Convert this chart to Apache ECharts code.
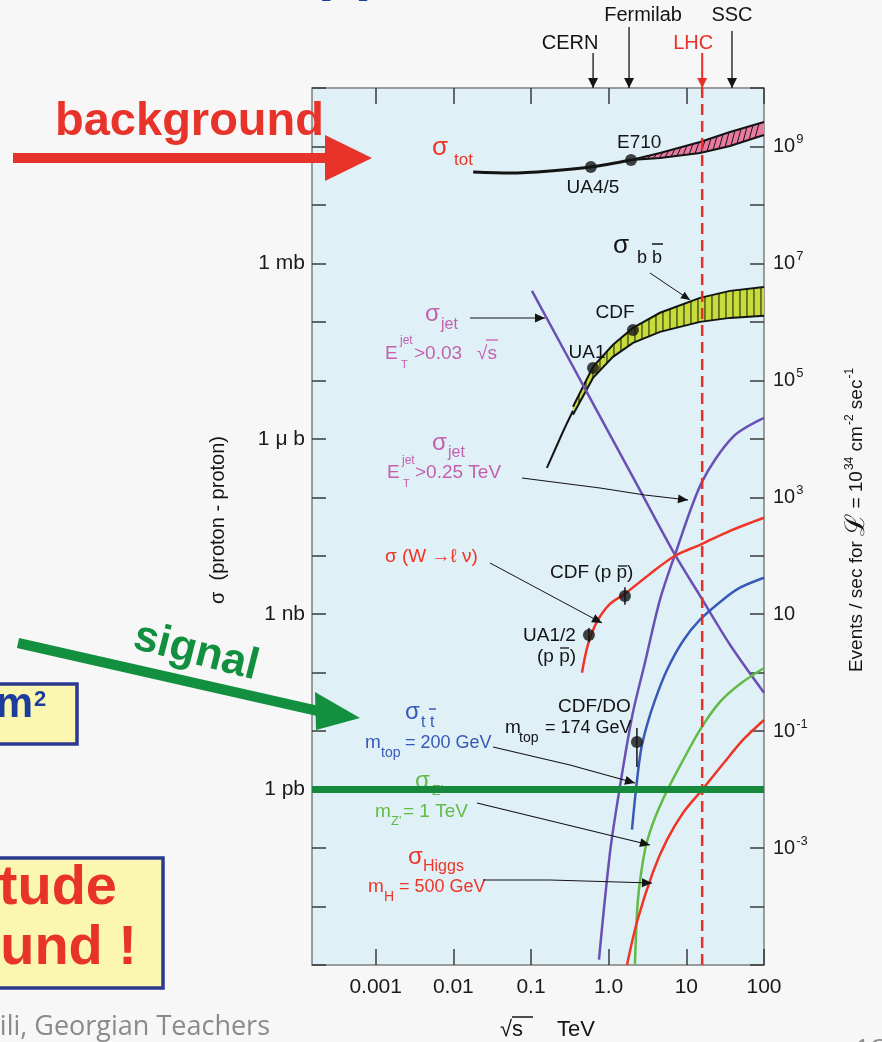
<!DOCTYPE html>
<html>
<head>
<meta charset="utf-8">
<script src="https://cdn.jsdelivr.net/npm/echarts@6/dist/echarts.min.js"></script>
<style>
  html, body { margin: 0; padding: 0; background: #f7f7f8; }
  #c { width: 882px; height: 1042px; }
</style>
</head>
<body>
<div id="c"></div>
<script>
// Cross sections vs. centre-of-mass energy. √s in TeV, σ in nb.
const totS        = [0.018, 0.054, 0.175, 0.59, 1.94];
const totSigma    = [3.66e7, 3.52e7, 3.81e7, 4.47e7, 5.88e7];
const totBandS    = [1.94, 4.58, 15, 36.5, 100];
const totBandHi   = [5.88e7, 7.74e7, 1.19e8, 1.77e8, 2.62e8];
const totBandLo   = [5.88e7, 6.36e7, 7.74e7, 1.02e8, 1.57e8];

const bbLeadS     = [0.16, 0.2035, 0.258, 0.347];
const bbLeadSigma = [319, 649, 1318, 3013];
const bbBandS     = [0.347, 0.628, 1.136, 2.055, 4.58, 15, 36.5, 100];
const bbBandHi    = [3524, 1.70e4, 4.05e4, 7.89e4, 1.43e5, 2.57e5, 3.39e5, 3.96e5];
const bbBandLo    = [2570, 1.10e4, 2.52e4, 4.38e4, 6.74e4, 1.0e5, 1.17e5, 1.27e5];

const jetLowS     = [0.1028, 0.574, 2.18, 7.14, 15, 36.5, 100];          // E_T > 0.03 √s
const jetLowSigma = [3.39e5, 5.02e3, 191, 10.4, 2.07, 0.301, 0.0455];
const jetHighS    = [0.75, 1.04, 1.357, 2.0, 2.93, 4.58, 7.14, 15.9, 39.9, 100]; // E_T > 0.25 TeV
const jetHighSigma= [1.24e-6, 8.4e-5, 8.9e-4, 0.0177, 0.148, 1.77, 10.4, 183, 1074, 2270];

const wS          = [0.453, 0.541, 0.707, 1.04, 1.62, 3.40, 7.14, 15, 36.5, 100];
const wSigma      = [0.1, 0.301, 0.745, 1.50, 2.24, 4.88, 10, 15.4, 26.7, 44.7];

const ttS         = [1.996, 2.246, 2.606, 3.114, 3.947, 5.63, 9.05, 15, 29.6, 49.1, 100];
const ttSigma     = [2.07e-4, 1e-3, 4.76e-3, 0.0127, 0.034, 0.111, 0.348, 0.805, 1.77, 2.84, 4.2];

const zpS         = [2.18, 2.384, 2.934, 3.61, 4.58, 5.63, 8.28, 15, 27.1, 49.1, 100];
const zpSigma     = [1.02e-6, 1.32e-5, 9.3e-5, 2.39e-4, 5.25e-4, 9.5e-4, 2.54e-3, 0.0105, 0.0316, 0.0641, 0.120];

const higgsS      = [1.72, 2.314, 3.72, 5.63, 9.05, 15.9, 29.6, 53.6, 100];
const higgsSigma  = [1.0e-6, 5.44e-6, 3.9e-5, 1.38e-4, 3.98e-4, 9.86e-4, 2.74e-3, 7.06e-3, 0.0155];

// measured points
const measS       = [0.59, 1.94, 0.628, 2.055, 0.557, 1.62, 2.31];
const measSigma   = [4.47e7, 5.88e7, 1.63e4, 7.26e4, 0.44, 2.05, 6.5e-3];
const errS        = [0.557, 1.62, 2.31];
const errLo       = [0.33, 1.45, 2.44e-3];
const errHi       = [0.58, 2.9, 0.0113];

// accelerators
const colliderNames = ['CERN', 'Fermilab', 'LHC', 'SSC'];
const colliderS     = [0.63, 1.83, 16, 38.7];
const lhcS          = 16;
const onePb         = 1e-3;                     // 1 pb in nb

// axes
const xTickValues   = [0.001, 0.01, 0.1, 1, 10, 100];
const xTickLabels   = ['0.001', '0.01', '0.1', '1.0', '10', '100'];
const leftTickSigma = [1e6, 1e3, 1, 1e-3];
const leftTickLabels= ['1 mb', '1 μ b', '1 nb', '1 pb'];
const rightTickExp  = [9, 7, 5, 3, 1, -1, -3];
const rateFactor    = 10;                       // events/s per nb at L = 1e34 cm^-2 s^-1

const lg = Math.log10;
const X_MIN = -3.82, X_MAX = 2;
const Y_MIN = -6, Y_MAX = 9;
const FF = '"Liberation Sans", Arial, Helvetica, sans-serif';
const RED = '#ee3526', MAG = '#c55fae', BLUE = '#3859b8', GREEN = '#62bb46', PURPLE = '#6a50b4', INK = '#141414';

const pairs = (xs, ys) => xs.map((s, i) => [lg(s), lg(ys[i])]);

function interpY(pts, x) {
  for (let i = 0; i < pts.length - 1; i++) {
    const a = pts[i], b = pts[i + 1];
    if (x >= a[0] && x <= b[0]) return a[1] + (b[1] - a[1]) * (x - a[0]) / (b[0] - a[0]);
  }
  return pts[pts.length - 1][1];
}

// hatched uncertainty band between two curves
function band(xs, hi, lo, fill, hatch) {
  return {
    type: 'custom', z: 3, silent: true,
    data: xs.map((s, i) => [lg(s), lg(hi[i]), lg(lo[i])]),
    encode: { x: 0, y: [1, 2] },
    renderItem(params, api) {
      if (params.dataIndex !== 0) return null;
      const up = xs.map((s, i) => api.coord([lg(s), lg(hi[i])]));
      const dn = xs.map((s, i) => api.coord([lg(s), lg(lo[i])]));
      const kids = [{
        type: 'polygon', shape: { points: up.concat(dn.slice().reverse()) },
        style: { fill: fill, stroke: null }
      }];
      const x0 = up[0][0], x1 = up[up.length - 1][0];
      if (hatch === 'vertical') {
        for (let x = x0 + 6; x < x1 - 1; x += 7) {
          kids.push({ type: 'line', shape: { x1: x, y1: interpY(up, x), x2: x, y2: interpY(dn, x) },
            style: { stroke: INK, lineWidth: 1 } });
        }
      } else {
        for (let x = x0 + 4; x < x1 - 5; x += 6) {
          kids.push({ type: 'line', shape: { x1: x, y1: interpY(dn, x), x2: x + 4, y2: interpY(up, x + 4) },
            style: { stroke: INK, lineWidth: 1 } });
        }
      }
      kids.push({ type: 'polyline', shape: { points: up }, style: { stroke: INK, lineWidth: 2, fill: null } });
      kids.push({ type: 'polyline', shape: { points: dn }, style: { stroke: INK, lineWidth: 2, fill: null } });
      return { type: 'group', children: kids };
    }
  };
}

function curve(xs, ys, color, width, z) {
  return {
    type: 'line', data: pairs(xs, ys), showSymbol: false, symbol: 'none', silent: true,
    smooth: 0.3, z: z || 4,
    lineStyle: { color: color, width: width }
  };
}

const tickStyle = { color: '#3a3a3a', width: 1.5 };
const xTicks = xTickValues.map(lg);
const option = {
  backgroundColor: '#f7f7f8',
  animation: false,
  grid: { left: 312, top: 88, width: 452, height: 877, show: true,
          backgroundColor: '#dff0f7', borderColor: '#7d7d7d', borderWidth: 1.5 },
  xAxis: [
    { type: 'value', min: X_MIN, max: X_MAX, position: 'bottom',
      axisLine: { show: false, onZero: false }, splitLine: { show: false },
      axisTick: { inside: true, length: 16, customValues: xTicks, lineStyle: tickStyle },
      axisLabel: { customValues: xTicks, margin: 12, fontSize: 21, color: '#1a1a1a', fontFamily: FF,
                   formatter: v => xTickLabels[xTicks.findIndex(t => Math.abs(t - v) < 1e-6)] } },
    { type: 'value', min: X_MIN, max: X_MAX, position: 'top',
      axisLine: { show: false, onZero: false }, splitLine: { show: false },
      axisTick: { inside: true, length: 16, customValues: xTicks, lineStyle: tickStyle },
      axisLabel: { show: false } }
  ],
  yAxis: [
    { type: 'value', min: Y_MIN, max: Y_MAX, interval: 1, position: 'left',
      axisLine: { show: false, onZero: false }, splitLine: { show: false },
      axisTick: { inside: true, length: 14, lineStyle: tickStyle },
      axisLabel: { margin: 7, fontSize: 21, color: '#1a1a1a', fontFamily: FF,
                   formatter: v => { const i = leftTickSigma.findIndex(s => Math.abs(lg(s) - v) < 1e-6); return i < 0 ? '' : leftTickLabels[i]; } } },
    { type: 'value', min: Y_MIN + lg(rateFactor), max: Y_MAX + lg(rateFactor), interval: 1, position: 'right',
      axisLine: { show: false, onZero: false }, splitLine: { show: false },
      axisTick: { inside: true, length: 14, lineStyle: tickStyle },
      axisLabel: { margin: 9, fontSize: 20, color: '#1a1a1a', fontFamily: FF,
                   formatter: v => {
                     const e = Math.round(v);
                     if (rightTickExp.indexOf(e) < 0) return '';
                     return e === 1 ? '10' : '10{sup|' + e + '}';
                   },
                   rich: { sup: { fontSize: 13, fontFamily: FF, color: '#1a1a1a', padding: [0, 0, 14, 1] } } } }
  ],
  series: [
    band(totBandS, totBandHi, totBandLo, '#e97aa0', 'diagonal'),
    band(bbBandS, bbBandHi, bbBandLo, '#c6dc3a', 'vertical'),
    curve(totS, totSigma, INK, 3),
    curve(bbLeadS, bbLeadSigma, INK, 2),
    curve(jetLowS, jetLowSigma, PURPLE, 2.5),
    curve(jetHighS, jetHighSigma, PURPLE, 2.5),
    curve(wS, wSigma, RED, 2.5),
    curve(ttS, ttSigma, BLUE, 2.5),
    curve(zpS, zpSigma, GREEN, 2.5),
    curve(higgsS, higgsSigma, RED, 2.5),
    { // LHC energy
      type: 'line', data: [[lg(lhcS), Y_MIN], [lg(lhcS), Y_MAX]], showSymbol: false, symbol: 'none', silent: true, z: 5,
      lineStyle: { color: '#e8302a', width: 2.5, type: [11, 6] } },
    { // 1 pb reference level
      type: 'line', data: [[X_MIN, lg(onePb)], [X_MAX, lg(onePb)]], showSymbol: false, symbol: 'none', silent: true, z: 8,
      lineStyle: { color: '#16893c', width: 7 } },
    { type: 'custom', z: 6, silent: true,
      data: errS.map((s, i) => [lg(s), lg(errLo[i]), lg(errHi[i])]),
      encode: { x: 0, y: [1, 2] },
      renderItem(params, api) {
        const a = api.coord([api.value(0), api.value(1)]);
        const b = api.coord([api.value(0), api.value(2)]);
        return { type: 'line', shape: { x1: a[0], y1: a[1], x2: b[0], y2: b[1] }, style: { stroke: INK, lineWidth: 1.5 } };
      } },
    { type: 'scatter', data: pairs(measS, measSigma), symbol: 'circle', symbolSize: 12, silent: true, z: 7,
      itemStyle: { color: INK } }
  ]
};

const chart = echarts.init(document.getElementById('c'));
chart.setOption(option);

// annotations
const G = [];
function txt(x, y, s, size, color, o) {
  o = o || {};
  G.push({ type: 'text', x: x, y: y, z: o.z == null ? 60 : o.z, rotation: o.rot || 0, silent: true,
    style: { text: s, fontSize: size, fontFamily: o.ff || FF, fontWeight: o.fw || 'normal', fill: color,
             align: o.al || 'left', verticalAlign: o.va || 'middle', rich: o.rich } });
}
function seg(x1, y1, x2, y2, color, w, z) {
  G.push({ type: 'line', z: z == null ? 60 : z, silent: true, shape: { x1: x1, y1: y1, x2: x2, y2: y2 },
           style: { stroke: color, lineWidth: w } });
}
function arrow(pts, color, w, len, half, z) {
  z = z == null ? 60 : z;
  G.push({ type: 'polyline', z: z, silent: true, shape: { points: pts }, style: { stroke: color, lineWidth: w, fill: null } });
  const p = pts[pts.length - 2], q = pts[pts.length - 1];
  const d = Math.hypot(q[0] - p[0], q[1] - p[1]), ux = (q[0] - p[0]) / d, uy = (q[1] - p[1]) / d;
  const bx = q[0] - ux * len, by = q[1] - uy * len;
  G.push({ type: 'polygon', z: z, silent: true,
           shape: { points: [[q[0], q[1]], [bx - uy * half, by + ux * half], [bx + uy * half, by - ux * half]] },
           style: { fill: color } });
}

// slide decorations around the figure
txt(318, -28, 'pp', 60, '#1c3d9c', { fw: 'bold' });
txt(55, 122, 'background', 47, '#e8332a', { fw: 'bold' });
G.push({ type: 'rect', z: 60, silent: true, shape: { x: 13, y: 153, width: 314, height: 10 }, style: { fill: '#e8332a' } });
G.push({ type: 'polygon', z: 60, silent: true, shape: { points: [[325, 135], [372, 158], [325, 181]] }, style: { fill: '#e8332a' } });
txt(196, 652, 'signal', 44, '#13903f', { fw: 'bold', al: 'center', rot: -0.25 });
seg(18, 643, 318, 711, '#13903f', 10);
G.push({ type: 'polygon', z: 60, silent: true, shape: { points: [[315, 692], [360, 718], [316, 730]] }, style: { fill: '#13903f' } });
G.push({ type: 'rect', z: 55, silent: true, shape: { x: -5, y: 684, width: 82, height: 60 }, style: { fill: '#fcf7b0', stroke: '#2b3a90', lineWidth: 3.5 } });
txt(33, 705, 'm', 42, '#1c3d9c', { fw: 'bold', al: 'right' });
txt(34, 700, '2', 22, '#1c3d9c', { fw: 'bold' });
G.push({ type: 'rect', z: 55, silent: true, shape: { x: -5, y: 858, width: 168, height: 130 }, style: { fill: '#fcf7b0', stroke: '#2b3a90', lineWidth: 3.5 } });
txt(117, 889, 'tude', 56, '#e8332a', { fw: 'bold', al: 'right' });
txt(137, 949, 'und !', 56, '#e8332a', { fw: 'bold', al: 'right' });
txt(270, 1027, 'ili, Georgian Teachers', 27, '#8a8a8a', { al: 'right', ff: '"Open Sans", Lato, sans-serif' });
txt(855, 1050, '16', 26, '#8a8a8a', { ff: '"Open Sans", Lato, sans-serif' });

// axis titles
txt(218, 520, 'σ  (proton - proton)', 20, INK, { al: 'center', rot: Math.PI / 2 });
txt(857, 520, 'Events / sec for {L|ℒ} = 10{sup|34} cm{sup|-2} sec{sup|-1}', 19, INK, {
  al: 'center', rot: Math.PI / 2,
  rich: { L: { fontSize: 27, fontFamily: '"DejaVu Serif", serif', fill: INK },
          sup: { fontSize: 12, fontFamily: FF, fill: INK, padding: [0, 0, 14, 1] } } });
txt(500, 1030, '√s', 22, INK);
seg(512, 1017, 533, 1017, INK, 1.5);
txt(557, 1030, 'TeV', 22, INK);

// σ_tot
txt(432, 148, 'σ', 26, RED);
txt(454, 160, 'tot', 17, RED);
txt(617, 143, 'E710', 19, INK);
txt(593, 188, 'UA4/5', 19, INK, { al: 'center' });
// σ_bb
txt(613, 246, 'σ', 26, INK);
txt(637, 258, 'b', 18, INK);
txt(652, 258, 'b', 18, INK);
seg(652, 244, 663, 244, INK, 1.5);
arrow([[650, 273], [690, 300]], INK, 1, 9, 4);
txt(615, 313, 'CDF', 19, INK, { al: 'center' });
txt(587, 353, 'UA1', 19, INK, { al: 'center' });
// jets
txt(425, 314, 'σ', 24, MAG);
txt(441, 325, 'jet', 16, MAG);
arrow([[470, 318], [545, 318]], INK, 1.2, 10, 4.5);
txt(385, 354, 'E', 19, MAG);
txt(400, 341, 'jet', 12, MAG);
txt(401, 365, 'T', 11, MAG);
txt(414, 354, '>0.03', 19, MAG);
txt(477, 354, '√s', 19, MAG);
seg(486, 340, 498, 340, MAG, 1.3);
txt(432, 443, 'σ', 24, MAG);
txt(448, 453, 'jet', 16, MAG);
txt(387, 473, 'E', 19, MAG);
txt(402, 461, 'jet', 12, MAG);
txt(403, 484, 'T', 11, MAG);
txt(415, 473, '>0.25 TeV', 19, MAG);
arrow([[522, 478], [600, 488], [645, 495], [688, 500]], INK, 1.2, 10, 4.5);
// W
txt(385, 557, 'σ (W →ℓ ν)', 19, RED);
arrow([[490, 563], [602, 623]], INK, 1, 10, 4.5);
txt(550, 573, 'CDF (p p)', 19, INK);
seg(618, 566, 627, 566, INK, 1.3);
txt(523, 636, 'UA1/2', 19, INK);
txt(537, 657, '(p p)', 19, INK);
seg(560, 648, 569, 648, INK, 1.3);
// top
txt(405, 712, 'σ', 24, BLUE);
txt(421, 723, 't t', 16, BLUE);
seg(429, 709, 436, 709, BLUE, 1.5);
txt(365, 743, 'm', 19, BLUE);
txt(381, 753, 'top', 14, BLUE);
txt(405, 743, '= 200 GeV', 18, BLUE);
arrow([[493, 747], [570, 765], [635, 783]], INK, 1.2, 10, 4.5);
txt(558, 707, 'CDF/DO', 19, INK);
txt(505, 728, 'm', 19, INK);
txt(519, 738, 'top', 14, INK);
txt(545, 728, '= 174 GeV', 18, INK);
// Z'
txt(415, 781, 'σ', 24, GREEN, { z: 1 });
txt(432, 791, "Z'", 14, GREEN, { z: 1 });
txt(375, 812, 'm', 19, GREEN);
txt(391, 821, "Z'", 13, GREEN);
txt(403, 812, '= 1 TeV', 19, GREEN);
arrow([[477, 803], [650, 845]], INK, 1.2, 10, 4.5);
// Higgs
txt(408, 857, 'σ', 24, RED);
txt(423, 867, 'Higgs', 16, RED);
txt(368, 887, 'm', 19, RED);
txt(384, 897, 'H', 14, RED);
txt(399, 887, '= 500 GeV', 18, RED);
arrow([[483, 880], [550, 880], [652, 883]], INK, 1.2, 10, 4.5);

// accelerator markers above the frame, placed with the x scale
const markerTop   = [53, 27, 53, 31];
const labelOffset = [[-23, 43], [14, 15], [-9, 43], [0, 15]];
colliderS.forEach((s, i) => {
  const px = chart.convertToPixel({ xAxisIndex: 0 }, lg(s));
  const col = colliderNames[i] === 'LHC' ? '#e8302a' : INK;
  arrow([[px, markerTop[i]], [px, 88]], col, colliderNames[i] === 'LHC' ? 2 : 1.3, 10, 5);
  txt(px + labelOffset[i][0], labelOffset[i][1], colliderNames[i], 20, col, { al: 'center' });
});

chart.setOption({ graphic: { elements: G } });
</script>
</body>
</html>
